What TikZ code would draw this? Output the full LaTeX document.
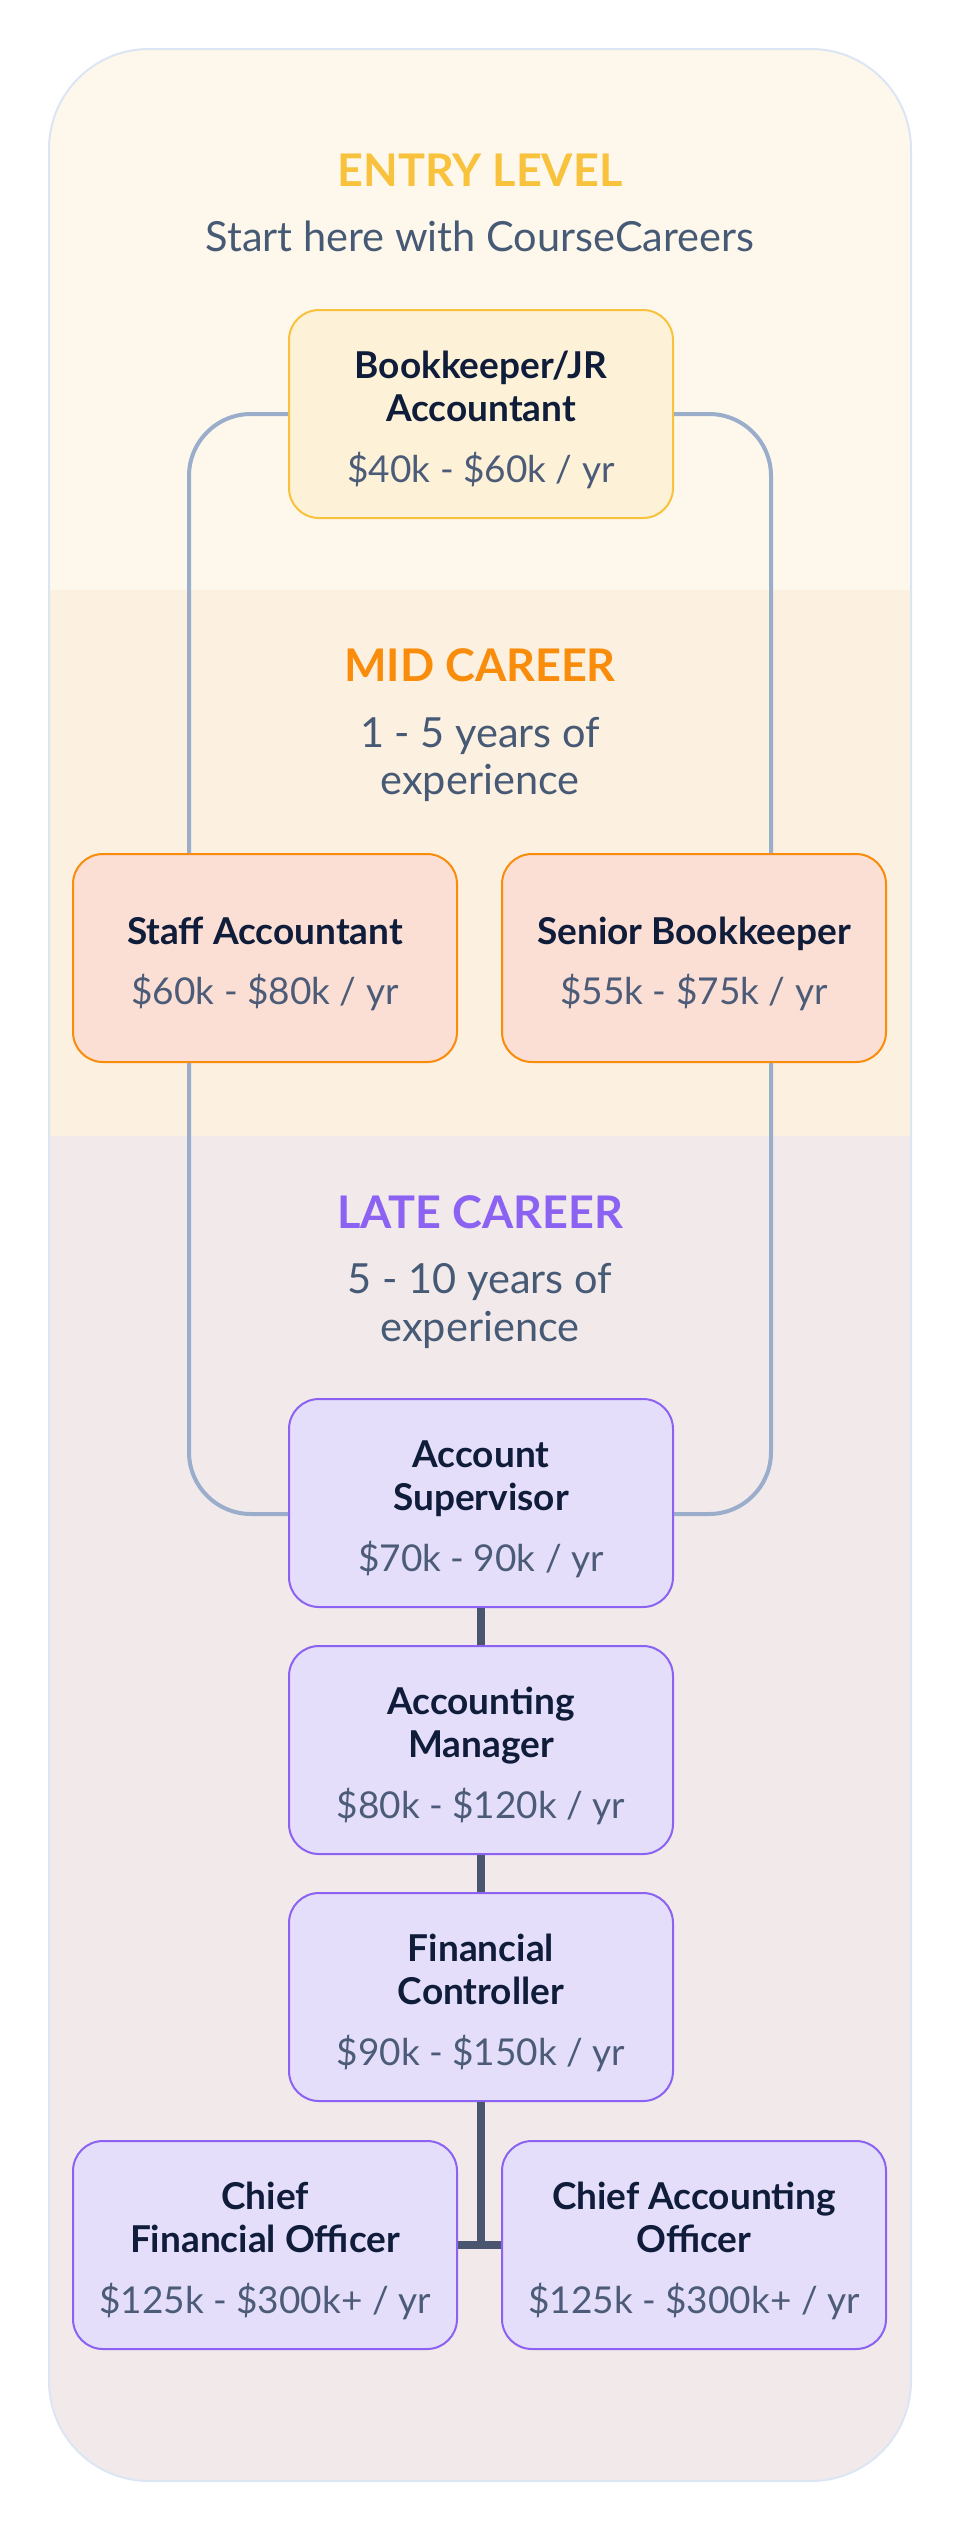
\documentclass[tikz,border=0pt]{standalone}
\usepackage{fontspec}
\setmainfont{Lato}
\definecolor{entrybg}{HTML}{FDF8EB}
\definecolor{midbg}{HTML}{FCF0E0}
\definecolor{latebg}{HTML}{F2E9EA}
\definecolor{panelborder}{HTML}{DCE5F4}
\definecolor{connc}{HTML}{9AAECB}
\definecolor{darkc}{HTML}{4A5670}
\definecolor{yelb}{HTML}{F9C23C}
\definecolor{yelf}{HTML}{FDF2D7}
\definecolor{orab}{HTML}{F98C0A}
\definecolor{oraf}{HTML}{FBDFD4}
\definecolor{purb}{HTML}{8B62F2}
\definecolor{purf}{HTML}{E4DEFA}
\definecolor{titlec}{HTML}{0F1C3A}
\definecolor{salc}{HTML}{4C5C78}
\definecolor{subc}{HTML}{475A75}
\newcommand{\boxtitle}[1]{{\bfseries\color{titlec}#1}}
\newcommand{\boxfirst}[1]{{\bfseries\color{titlec}\rule{0pt}{40pt}#1}}
\newcommand{\boxsal}[1]{{\color{salc}#1}}
\begin{document}
\begin{tikzpicture}[x=1pt,y=-1pt,
  hdr/.style={font=\fontsize{45}{52}\selectfont\bfseries, anchor=base, inner sep=0pt},
  sub/.style={font=\fontsize{41.5}{48}\selectfont, text=subc, anchor=base, inner sep=0pt},
  card/.style={line width=2pt, rounded corners=30pt, minimum width=384pt, minimum height=208pt,
    align=center, inner sep=0pt, font=\fontsize{37}{43}\selectfont},
  entrycard/.style={card, draw=yelb, fill=yelf},
  midcard/.style={card, draw=orab, fill=oraf},
  latecard/.style={card, draw=purb, fill=purf},
  conn/.style={draw=connc, line width=4pt, rounded corners=62pt},
  dk/.style={draw=darkc, line width=8pt}
]
\useasboundingbox (0,0) rectangle (960,2532);
% panel and bands
\begin{scope}
  \clip[rounded corners=100pt] (49,49) rectangle (911,2481);
  \fill[entrybg] (49,49) rectangle (911,590);
  \fill[midbg] (49,590) rectangle (911,1136);
  \fill[latebg] (49,1136) rectangle (911,2481);
\end{scope}
\draw[panelborder, line width=2pt, rounded corners=100pt] (49,49) rectangle (911,2481);

% headers
\node[hdr, text=yelb] (h1) at (480,186) {ENTRY LEVEL};
\node[sub] (s1) at (480,251) {Start here with CourseCareers};
\node[hdr, text=orab] (h2) at (480,681) {MID CAREER};
\node[sub] (s2a) at (480,747) {1 - 5 years of};
\node[sub] (s2b) at (480,794) {experience};
\node[hdr, text=purb] (h3) at (480,1228) {LATE CAREER};
\node[sub] (s3a) at (480,1293) {5 - 10 years of};
\node[sub] (s3b) at (480,1341) {experience};

% coordinates for the side connectors
\coordinate (lx) at (189,0);
\coordinate (rx) at (771,0);

% cards
\node[entrycard] (bk) at (481,414) {\boxfirst{Bookkeeper/JR}\\\boxtitle{Accountant}\\[18pt]\boxsal{\$40k - \$60k / yr}};
\node[midcard] (sa) at (265,958) {\boxfirst{Staff Accountant}\\[17pt]\boxsal{\$60k - \$80k / yr}};
\node[midcard] (sb) at (694,958) {\boxfirst{Senior Bookkeeper}\\[17pt]\boxsal{\$55k - \$75k / yr}};
\node[latecard] (as) at (481,1503) {\boxfirst{Account}\\\boxtitle{Supervisor}\\[18pt]\boxsal{\$70k - 90k / yr}};
\node[latecard] (am) at (481,1750) {\boxfirst{Accounting}\\\boxtitle{Manager}\\[18pt]\boxsal{\$80k - \$120k / yr}};
\node[latecard] (fc) at (481,1997) {\boxfirst{Financial}\\\boxtitle{Controller}\\[18pt]\boxsal{\$90k - \$150k / yr}};
\node[latecard] (cfo) at (265,2245) {\boxfirst{Chief}\\\boxtitle{Financial Officer}\\[18pt]\boxsal{\$125k - \$300k+ / yr}};
\node[latecard] (cao) at (694,2245) {\boxfirst{Chief Accounting}\\\boxtitle{Officer}\\[18pt]\boxsal{\$125k - \$300k+ / yr}};

% connectors
\draw[conn] (bk.west) -| (lx |- sa.north);
\draw[conn] (bk.east) -| (rx |- sb.north);
\draw[conn] (lx |- sa.south) |- ([yshift=-11pt]as.west);
\draw[conn] (rx |- sb.south) |- ([yshift=-11pt]as.east);
\draw[dk] (as.south) -- (am.north);
\draw[dk] (am.south) -- (fc.north);
\draw[dk] (fc.south) -- (fc.south |- cfo.east);
\draw[dk] (cfo.east) -- (cao.west);
\end{tikzpicture}
\end{document}
